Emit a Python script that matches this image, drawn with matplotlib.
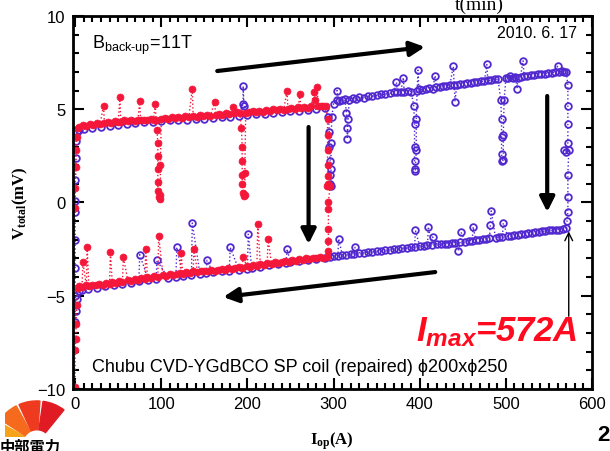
import matplotlib
matplotlib.use("Agg")
import matplotlib.pyplot as plt
from matplotlib.ticker import MultipleLocator
from matplotlib.patches import Wedge

plt.rcParams['font.family'] = ['Liberation Sans', 'DejaVu Sans']
plt.rcParams['mathtext.default'] = 'regular'

# Run to 572 A: (I_op [A], V_total [mV]) in measurement order
blue_up = [(0, 0.1), (0, 1.2), (1, 2.4), (1, 3.3), (2, 3.8), (4, 3.9),
           (10, 3.95), (20, 4.0), (30, 4.05), (40, 4.1), (50, 4.15), (60, 4.2),
           (70, 4.25), (80, 4.3), (90, 4.3), (100, 4.35), (110, 4.4), (120, 4.4),
           (130, 4.45), (140, 4.5), (150, 4.5), (160, 4.55), (170, 4.6), (180, 4.6),
           (190, 4.65), (195, 5.3), (195, 6.25), (196, 5.2), (200, 4.7), (210, 4.75),
           (220, 4.75), (230, 4.8), (240, 4.85), (250, 4.9), (260, 4.9), (270, 4.95),
           (280, 5.0), (290, 5.05), (294, 4.6), (295, 3.8), (295, 3.0), (296, 2.2),
           (296, 1.5), (296, 1.0), (297, 0.9), (297, 1.8), (297, 3.2), (298, 4.6),
           (300, 5.3), (304, 5.5), (304, 6.0), (306, 5.45), (310, 5.5), (313, 5.55),
           (315, 4.8), (316, 4.0), (316, 3.4), (317, 4.5), (318, 5.5), (322, 5.6),
           (326, 5.55), (330, 5.65), (335, 5.6), (340, 5.7), (345, 5.7), (350, 5.75),
           (355, 5.8), (360, 5.8), (365, 5.85), (370, 5.9), (373, 6.45), (374, 5.9),
           (378, 5.95), (381, 6.7), (382, 5.95), (386, 6.0), (390, 5.95), (393, 5.2),
           (394, 4.2), (394, 3.0), (394, 2.2), (395, 1.7), (395, 1.8), (396, 2.8),
           (396, 4.5), (397, 6.0), (398, 7.1), (399, 6.1), (403, 6.05), (407, 6.1),
           (411, 6.15), (415, 6.1), (418, 6.8), (419, 6.2), (423, 6.2), (427, 6.25),
           (431, 6.25), (435, 6.3), (439, 7.3), (440, 6.3), (441, 5.4), (443, 6.3),
           (447, 6.35), (451, 6.35), (455, 6.4), (459, 6.4), (463, 6.45), (467, 6.45),
           (471, 6.5), (475, 6.5), (478, 7.4), (479, 6.55), (483, 6.55), (487, 6.6),
           (491, 6.6), (494, 5.5), (495, 4.5), (495, 3.5), (495, 2.6), (496, 2.2),
           (497, 2.3), (497, 3.6), (498, 5.5), (500, 6.65), (503, 6.7), (505, 6.8),
           (508, 6.7), (511, 6.75), (513, 6.1), (514, 6.7), (517, 6.75), (520, 7.6),
           (521, 6.8), (525, 6.8), (529, 6.85), (533, 6.85), (537, 6.9), (541, 6.9),
           (545, 6.9), (549, 6.95), (553, 6.95), (557, 7.0), (560, 7.3), (562, 7.0),
           (565, 7.05), (568, 7.0), (570, 7.0), (572, 6.3), (572, 5.2), (572, 4.2),
           (572, 3.2), (568, 2.8), (570, 2.7), (573, 2.8), (572, 1.5), (572, 0.3),
           (572, -0.5), (571, -1.0)]
blue_down = [(570, -1.35), (566, -1.4), (562, -1.45), (558, -1.45), (554, -1.5),
             (550, -1.5), (546, -1.55), (542, -1.55), (538, -1.6), (534, -1.6),
             (530, -1.65), (526, -1.65), (522, -1.7), (518, -1.7), (514, -1.75),
             (510, -1.75), (506, -1.8), (502, -1.8), (497, -1.1), (496, -1.85),
             (492, -1.85), (488, -1.9), (483, -0.45), (482, -1.2), (481, -1.9),
             (477, -1.95), (473, -1.95), (469, -2.0), (465, -2.0), (462, -1.3),
             (461, -2.05), (457, -2.05), (453, -2.1), (448, -1.6), (447, -2.1),
             (445, -2.6), (441, -2.15), (437, -2.15), (433, -2.2), (429, -2.2),
             (425, -2.25), (420, -2.25), (415, -1.85), (414, -2.3), (410, -1.3),
             (409, -2.3), (405, -2.35), (400, -2.35), (395, -1.5), (394, -2.4),
             (390, -2.4), (385, -2.45), (380, -2.45), (375, -2.5), (370, -2.5),
             (365, -2.55), (360, -2.55), (355, -2.6), (350, -2.6), (345, -2.65),
             (340, -2.65), (335, -2.7), (330, -2.7), (325, -2.4), (324, -2.75),
             (320, -2.75), (315, -2.8), (310, -2.8), (306, -1.95), (305, -2.85),
             (300, -2.85), (296, -2.9), (290, -3.0), (280, -3.05), (270, -3.1),
             (260, -3.15), (250, -3.2), (246, -2.5), (245, -3.25), (235, -3.3),
             (225, -3.35), (215, -3.45), (205, -3.5), (201, -1.7), (200, -3.55),
             (190, -3.6), (180, -2.4), (179, -3.65), (170, -3.7), (160, -3.75),
             (153, -3.1), (152, -3.8), (145, -3.85), (136, -1.1), (135, -3.9),
             (125, -3.95), (118, -2.4), (117, -4.0), (108, -4.05), (95, -3.1),
             (94, -4.1), (85, -4.15), (75, -2.8), (74, -4.2), (65, -4.3),
             (55, -4.35), (45, -4.45), (35, -4.5), (25, -4.6), (15, -4.65),
             (8, -4.7), (4, -4.75), (2, -5.2), (1, -5.8), (0, -6.4), (0, -5.0),
             (0, -3.5), (0, -2.0), (0, -0.5)]

# Run to ~300 A
red_up = [(0, -0.3), (0, 0.8), (1, 1.9), (1, 2.8), (2, 3.5), (3, 4.0), (5, 4.05),
          (9, 4.15), (13, 4.1), (17, 4.2), (21, 4.15), (25, 4.25), (29, 4.2),
          (33, 5.2), (34, 4.25), (38, 4.3), (42, 4.25), (46, 4.35), (50, 4.3),
          (52, 5.65), (53, 4.3), (57, 4.4), (61, 4.35), (65, 4.4), (69, 4.35),
          (73, 4.45), (75, 5.45), (76, 4.4), (80, 4.45), (84, 4.4), (88, 4.5),
          (91, 4.45), (93, 5.3), (94, 4.45), (95, 3.9), (96, 3.2), (96, 2.5),
          (96, 1.8), (96, 1.1), (96, 0.6), (97, 0.3), (98, 0.2), (99, 0.4),
          (99, 2.0), (100, 4.5), (104, 4.55), (108, 4.5), (112, 4.6), (116, 4.55),
          (120, 4.6), (124, 4.55), (128, 4.65), (132, 4.6), (136, 6.1), (137, 4.65),
          (141, 4.6), (145, 4.7), (149, 4.65), (153, 4.7), (157, 4.65), (162, 5.4),
          (163, 4.7), (167, 4.75), (171, 4.7), (175, 4.8), (179, 4.75), (183, 5.1),
          (184, 4.8), (188, 4.85), (191, 4.8), (193, 4.0), (194, 3.0), (194, 2.2),
          (194, 1.5), (194, 1.0), (195, 0.5), (196, 0.35), (197, 0.4), (197, 1.6),
          (198, 4.8), (202, 4.85), (206, 4.9), (210, 4.85), (214, 4.9), (218, 4.85),
          (222, 4.95), (226, 4.9), (230, 5.0), (234, 4.95), (238, 5.0), (242, 4.95),
          (246, 6.0), (247, 5.0), (251, 5.05), (255, 5.0), (259, 5.1), (261, 5.8),
          (262, 5.05), (266, 5.1), (270, 5.05), (274, 5.15), (277, 5.9), (279, 5.5),
          (281, 6.2), (282, 5.15), (285, 5.2), (288, 5.15), (291, 5.2), (293, 4.5),
          (293, 3.6), (293, 2.8), (293, 2.0), (293, 1.4), (293, 1.0), (292, 0.9),
          (294, 0.9), (296, 0.9), (294, 0.0), (294, -0.35), (294, -1.4),
          (294, -2.05), (293, -2.6)]
red_down = [(292, -2.9), (288, -2.95), (284, -2.9), (280, -3.0), (276, -2.95),
            (272, -3.05), (268, -3.0), (264, -3.1), (260, -3.05), (256, -3.15),
            (252, -3.1), (248, -3.2), (244, -3.15), (240, -3.2), (236, -3.25),
            (232, -3.2), (228, -3.3), (224, -1.95), (223, -3.25), (219, -3.35),
            (215, -3.3), (212, -1.15), (211, -3.4), (207, -3.35), (203, -3.45),
            (199, -3.4), (195, -2.9), (194, -3.5), (190, -3.45), (186, -3.5),
            (182, -3.55), (178, -3.5), (174, -3.6), (170, -3.55), (166, -3.6),
            (162, -3.65), (158, -3.6), (154, -3.7), (150, -3.65), (146, -3.7),
            (142, -3.75), (138, -2.5), (137, -3.7), (133, -3.8), (129, -3.75),
            (125, -3.85), (123, -2.7), (122, -3.8), (118, -3.85), (114, -3.9),
            (110, -3.85), (106, -3.95), (102, -3.9), (97, -1.8), (96, -4.0),
            (92, -3.95), (88, -4.05), (84, -4.0), (82, -2.5), (81, -4.1),
            (77, -4.05), (73, -4.15), (69, -4.1), (65, -4.2), (61, -4.15),
            (56, -2.9), (55, -4.25), (51, -4.2), (47, -4.3), (43, -4.25),
            (41, -2.65), (40, -4.35), (36, -4.3), (32, -4.4), (28, -4.35),
            (24, -4.45), (20, -4.4), (16, -4.5), (14, -2.4), (13, -4.45),
            (9, -3.2), (8, -4.55), (5, -4.5), (3, -4.6), (2, -5.5), (1, -6.5),
            (1, -7.3), (0, -7.9), (0, -9.9)]

blue_col = '#5229cf'
red_col = '#f5173a'

fig = plt.figure(figsize=(6.1, 4.52), dpi=100)
ax = fig.add_axes([0.1189, 0.1372, 0.8516, 0.8252])

blue = blue_up + blue_down
red = red_up + red_down
ax.plot([p[0] for p in blue], [p[1] for p in blue], ls=':', lw=1.0, color=blue_col,
        marker='o', ms=4.8, mfc='none', mec=blue_col, mew=1.3)
ax.plot([p[0] for p in red], [p[1] for p in red], ls=':', lw=1.0, color=red_col,
        marker='o', ms=5.0, mfc=red_col, mec=red_col, mew=0.5)

ax.set_xlim(-3, 600)
ax.set_ylim(-10, 10)
ax.xaxis.set_major_locator(MultipleLocator(100))
ax.xaxis.set_minor_locator(MultipleLocator(10))
ax.yaxis.set_major_locator(MultipleLocator(5))
ax.yaxis.set_minor_locator(MultipleLocator(1))
ax.tick_params(which='both', direction='in', top=True, right=True, width=1.5,
               labelsize=12, pad=5)
ax.tick_params(which='major', length=8)
ax.tick_params(which='minor', length=4)
for s in ax.spines.values():
    s.set_linewidth(2)

ax.set_xlabel(r'I$_{op}$(A)', family='Liberation Serif', fontweight='bold',
              fontsize=12, labelpad=13)
ax.set_ylabel(r'V$_{total}$(mV)', family='Liberation Serif', fontweight='bold',
              fontsize=12, labelpad=5)

# annotations inside the plot
ax.text(20, 8.5, r'B$_{back‐up}$=11T', fontsize=13, va='center')
ax.text(583, 9.1, '2010. 6. 17', fontsize=11.5, ha='right', va='center',
        bbox=dict(fc='white', ec='none', pad=1.5))
ax.text(20, -8.8, 'Chubu CVD-YGdBCO SP coil (repaired) ϕ200xϕ250', fontsize=13,
        va='center', bbox=dict(fc='white', ec='none', pad=1.5))
ax.text(583, -6.9, r'I$_{max}$=572A', color='#ff0a1e', fontsize=25,
        fontweight='bold', style='italic', ha='right', va='center')

arrow = dict(arrowstyle='-|>', lw=3, color='black', mutation_scale=22,
             shrinkA=0, shrinkB=0)
ax.annotate('', xy=(406, 8.34), xytext=(165, 7.05), arrowprops=arrow)
ax.annotate('', xy=(271, -2.23), xytext=(271, 4.05), arrowprops=arrow)
ax.annotate('', xy=(548, -0.51), xytext=(548, 5.71), arrowprops=arrow)
ax.annotate('', xy=(172, -5.07), xytext=(418, -3.73), arrowprops=arrow)
ax.annotate('', xy=(573, -1.55), xytext=(573, -6.1),
            arrowprops=dict(arrowstyle='->', lw=1, color='black',
                            mutation_scale=14, shrinkA=0, shrinkB=0))

# time axis title, cut by the top edge
fig.text(0.785, 0.979, 't(min)', family='Liberation Serif', fontsize=14,
         ha='center', va='baseline')

# slide number
fig.text(0.999, 0.037, '2', fontsize=16, fontweight='bold', ha='right',
         va='center')

# company logo
lax = fig.add_axes([0.008, 0.03, 0.105, 0.085])
lax.set_xlim(0, 1.6)
lax.set_ylim(0, 1)
lax.axis('off')
blades = [(150, 175, '#f7a21b'), (118, 146, '#f56a1c'),
          (86, 114, '#ee3a1f'), (52, 82, '#e01b23')]
for t1, t2, c in blades:
    lax.add_patch(Wedge((0.8, -0.15), 1.1, t1, t2, width=0.75, color=c))
fig.text(0.0, 0.029, '中部電力', family=['Noto Sans CJK JP', 'DejaVu Sans'],
         fontsize=11, fontweight='bold', ha='left', va='top')

fig.savefig('out.png', dpi=100)
